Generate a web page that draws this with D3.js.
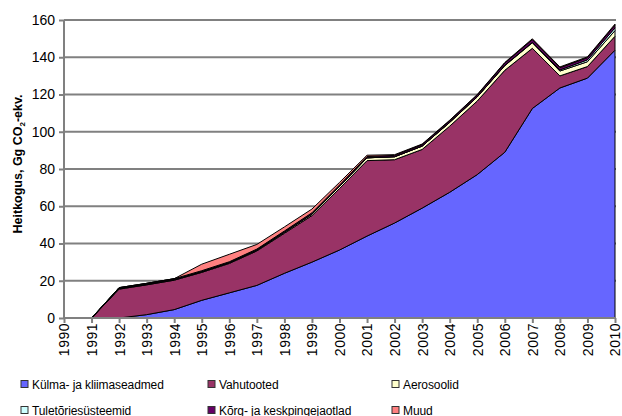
<!DOCTYPE html>
<html>
<head>
<meta charset="utf-8">
<script src="https://cdn.jsdelivr.net/npm/d3@7"></script>
<style>
html,body{margin:0;padding:0;background:#fff;}
svg{display:block;font-family:"Liberation Sans",Arial,sans-serif;}
</style>
</head>
<body>
<svg id="chart" width="622" height="416"></svg>
<script>
const years = [1990,1991,1992,1993,1994,1995,1996,1997,1998,1999,2000,2001,2002,2003,2004,2005,2006,2007,2008,2009,2010];
const kulma = [0,0,0,1.8,4.5,9.5,13.5,17.5,24,30,36.5,44,51,59,67.5,77,89,112.5,123.5,128.8,143.8];
const vahu  = [0,0,15.5,16,15.8,15,15.8,18.5,21.5,25,33,40.5,34,31.5,35.5,39.5,44,32.3,6.5,6.2,7.5];
const aero  = [0,0,0.3,0.3,0.3,0.4,0.4,0.5,0.6,0.8,1.2,1.5,1.6,1.8,2,2.2,2.5,3,2.6,2.6,3];
const tulet = [0,0,0,0,0,0,0,0,0,0,0,0,0,0,0.1,0.1,0.2,0.2,0.6,1,1.5];
const korg  = [0,0,0.5,0.5,0.5,0.5,0.5,0.5,0.6,0.7,0.7,0.7,0.7,0.8,0.8,0.9,1.2,1.5,1.2,1.2,1.5];
const muud  = [0,0,0,0,0,3.5,4,2.5,2.2,2,1.4,0.7,0.4,0.3,0.3,0.3,0.3,0.4,0.4,0.4,0.5];
const seriesNames = ["Külma- ja kliimaseadmed","Vahutooted","Aerosoolid","Tuletõriesüsteemid","Kõrg- ja keskpingejaotlad","Muud"];
const seriesColors = ["#6666ff","#993366","#ffffcc","#ccffff","#660066","#ff8080"];
const yTicks = [0,20,40,60,80,100,120,140,160];
const yTitle = "Heitkogus, Gg CO";

const keys = ["kulma","vahu","aero","tulet","korg","muud"];
const rows = years.map((y,i)=>({year:y,kulma:kulma[i],vahu:vahu[i],aero:aero[i],tulet:tulet[i],korg:korg[i],muud:muud[i]}));

const svg = d3.select("#chart");
const x = d3.scaleLinear().domain([1990,2010]).range([64,615]);
const y = d3.scaleLinear().domain([0,160]).range([318,20]);

// gridlines
svg.append("g").selectAll("line").data(yTicks.filter(t=>t>0)).join("line")
  .attr("x1",64).attr("x2",616).attr("y1",d=>y(d)).attr("y2",d=>y(d))
  .attr("stroke","#808080").attr("stroke-width",2);

// stacked areas
const stack = d3.stack().keys(keys);
const stacked = stack(rows);
const area = d3.area().x(d=>x(d.data.year)).y0(d=>y(d[0])).y1(d=>y(d[1]));
svg.append("g").selectAll("path").data(stacked).join("path")
  .attr("d",area)
  .attr("fill",(d,i)=>seriesColors[i])
  .attr("stroke","#000").attr("stroke-width",1).attr("stroke-linejoin","miter");

// y axis
const yAxis = d3.axisLeft(y).tickValues(yTicks).tickSize(5).tickPadding(4);
const gy = svg.append("g").attr("transform","translate(64,0)").call(yAxis);
gy.select(".domain").attr("stroke","#808080").attr("stroke-width",2).attr("d","M0,"+y(160)+"V"+(y(0)+1));
gy.selectAll(".tick line").attr("stroke","#808080").attr("stroke-width",2);
gy.selectAll(".tick text").attr("font-size","14px").attr("fill","#000").attr("font-family","Liberation Sans, Arial, sans-serif");

// x axis
const xAxis = d3.axisBottom(x).tickValues(years).tickFormat(d3.format("d")).tickSize(5).tickSizeOuter(0);
const gx = svg.append("g").attr("transform","translate(0,318)").call(xAxis);
gx.select(".domain").attr("stroke","#808080").attr("stroke-width",2).attr("d","M63,0H616");
gx.selectAll(".tick line").attr("stroke","#808080").attr("stroke-width",2);
gx.selectAll(".tick text")
  .attr("font-size","14px").attr("fill","#000").attr("font-family","Liberation Sans, Arial, sans-serif")
  .attr("text-anchor","end").attr("transform","rotate(-90)")
  .attr("x",-5).attr("y",0).attr("dy","0.35em").attr("letter-spacing","0.5px");

// y title
const t = svg.append("text")
  .attr("transform","translate(22,164) rotate(-90)")
  .attr("text-anchor","middle")
  .attr("font-size","12.5px").attr("font-weight","bold").attr("fill","#000");
t.append("tspan").text(yTitle);
t.append("tspan").attr("font-size","8px").attr("dy","3").text("2");
t.append("tspan").attr("dy","-3").text("-ekv.");

// legend
const legPos = [[21,384],[208,384],[392,384],[21,410],[208,410],[392,410]];
const leg = svg.append("g").selectAll("g").data(seriesNames).join("g")
  .attr("transform",(d,i)=>`translate(${legPos[i][0]},${legPos[i][1]})`);
leg.append("rect").attr("x",0).attr("y",-3.5).attr("width",7).attr("height",7)
  .attr("fill",(d,i)=>seriesColors[i]).attr("stroke","#333").attr("stroke-width",1);
leg.append("text").attr("x",11).attr("y",4.5).attr("font-size","12px").attr("fill","#000")
  .attr("letter-spacing","-0.1px").text(d=>d);
</script>
</body>
</html>
